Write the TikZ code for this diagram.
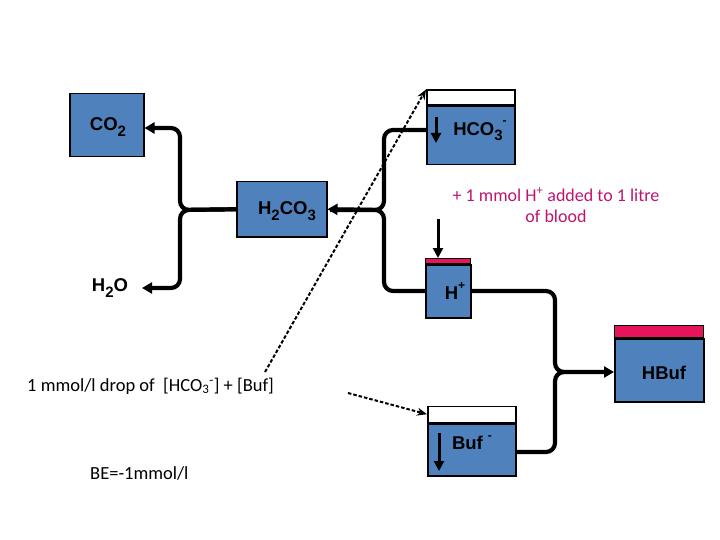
\documentclass[tikz,border=0pt]{standalone}
\usepackage{fontspec}
\setmainfont{Liberation Sans}
\newfontfamily\carl{Carlito}
\usetikzlibrary{arrows.meta}
\definecolor{boxblue}{RGB}{79,129,189}
\definecolor{toppink}{RGB}{230,20,90}
\definecolor{txtmag}{RGB}{190,20,110}
\newcommand{\mysub}[1]{\raisebox{-0.3em}{\fontsize{15}{15}\selectfont #1}}
\newcommand{\mysup}[1]{\raisebox{0.55em}{\fontsize{12}{12}\selectfont #1}}
\tikzset{
  x=1pt,y=-1pt,
  bluebox/.style={draw=black,line width=1.5pt,fill=boxblue,inner sep=0pt,minimum width=#1,anchor=north west},
  whitetop/.style={draw=black,line width=1.5pt,fill=white,inner sep=0pt,anchor=south west},
  pinktop/.style={draw=black,line width=1pt,fill=toppink,inner sep=0pt,anchor=south west},
  lbl/.style={font=\fontsize{18.5}{20}\selectfont\bfseries,inner sep=0pt},
  flow/.style={line width=4.2pt,rounded corners=9pt},
  flowarr/.style={line width=4.2pt,rounded corners=9pt,-{Triangle[length=10pt,width=11pt]}},
  downarr/.style={line width=3pt,-{Triangle[length=10pt,width=10pt]}},
  dasharr/.style={line width=2pt,dash pattern=on 3.5pt off 2pt,-{Stealth[length=10pt,width=8pt]}},
  ctext/.style={font=\carl\fontsize{18.5}{21}\selectfont,inner sep=0pt}
}
\begin{document}
\begin{tikzpicture}
\useasboundingbox (0,0) rectangle (720,540);
% boxes
\node[bluebox=74pt,minimum height=63pt] (co2) at (69,93) {};
\node[lbl] (co2t) at (108,127) {CO\mysub{2}};

\node[bluebox=88pt,minimum height=58pt] (hco3) at (426,106) {};
\node[whitetop,minimum width=88pt,minimum height=15pt] (hco3top) at (426,106) {};
\node[lbl] (hco3t) at (480,131) {HCO\mysub{3}\mysup{-}};

\node[bluebox=90pt,minimum height=55pt] (h2co3) at (236,181) {};
\node[lbl] (h2co3t) at (287,211) {H\mysub{2}CO\mysub{3}};

\node[lbl] (h2o) at (110,288) {H\mysub{2}O};

\node[bluebox=45pt,minimum height=53pt] (hp) at (425,264) {};
\node[pinktop,minimum width=45pt,minimum height=5pt] (hptop) at (425,264) {};
\node[lbl] (hpt) at (455,291) {H\mysup{+}};

\node[bluebox=89pt,minimum height=63pt] (hbuf) at (614,338) {};
\node[pinktop,minimum width=89pt,minimum height=12pt] (hbuftop) at (614,338) {};
\node[lbl] (hbuft) at (664,373) {HBuf};

\node[bluebox=88pt,minimum height=52pt] (buf) at (427,423) {};
\node[whitetop,minimum width=88pt,minimum height=16pt] (buftop) at (427,423) {};
\node[lbl] (buft) at (472,443) {Buf \mysup{-}};

% junction coordinates
\coordinate (j1) at (384,210);
\coordinate (j2) at (180,210);
\coordinate (j3) at (555,372);
\coordinate (h2oend) at (142,288);

% flows
\draw[flow] (hco3.west |- 0,130) -- (384,130) -- (j1) -- (330,210);
\draw[flowarr] (hp.west |- 0,291) -- (384,291) -- (j1) -- (h2co3.east);
\draw[flowarr] (h2co3.west) -- (j2) -- (180,288) -- (h2oend);
\draw[flowarr] (h2co3.west) -- (j2) -- (180,128) -- (co2.east |- 0,128);
\draw[flow] (hp.east |- 0,291) -- (555,291) -- (j3) -- (560,372);
\draw[flowarr] (buf.east |- 0,452) -- (555,452) -- (j3) -- (hbuf.west |- 0,372);

% down arrows
\coordinate (a1s) at (436,117);
\coordinate (a1e) at (436,143);
\draw[downarr] (a1s) -- (a1e);
\coordinate (a2s) at (439,433);
\coordinate (a2e) at (439,471);
\draw[downarr] (a2s) -- (a2e);
\coordinate (a3s) at (438,219);
\draw[downarr] (a3s) -- (hptop.north -| 438,0);

% texts
\node[ctext,text=txtmag,align=center,font=\carl\fontsize{18}{21}\selectfont] (addtxt) at (556,205) {+ 1 mmol H\textsuperscript{+} added to 1 litre\\of blood};
\node[ctext,anchor=west] (drop) at (27,386) {1 mmol/l drop of\ \ [HCO\textsubscript{3}\textsuperscript{-}] + [Buf]};
\node[ctext,anchor=west] (be) at (90,473) {BE=-1mmol/l};

% dashed arrows
\coordinate (d1s) at (265,372);
\coordinate (d2s) at (348,393);
\draw[dasharr] (d1s) -- (hco3top.north west);
\draw[dasharr] (d2s) -- (buftop.west);
\end{tikzpicture}
\end{document}
